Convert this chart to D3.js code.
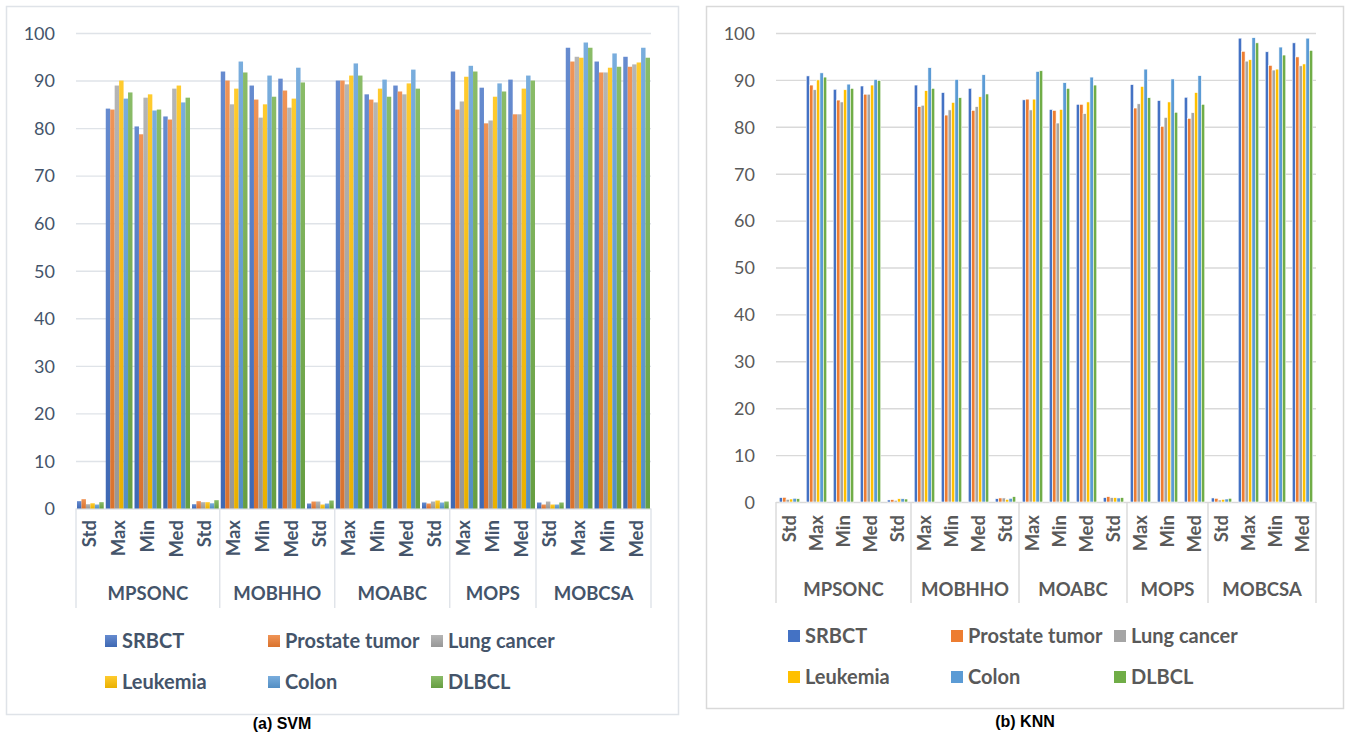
<!DOCTYPE html>
<html>
<head>
<meta charset="utf-8">
<script src="https://cdnjs.cloudflare.com/ajax/libs/d3/7.8.5/d3.min.js"></script>
<style>
  html, body { margin: 0; padding: 0; background: #fff; }
  svg { display: block; }
</style>
</head>
<body>
<svg id="chart" width="1348" height="737"></svg>
<script>
// ---------------- DATA ----------------
const categories = ["Std","Max","Min","Med","Std","Max","Min","Med","Std","Max","Min","Med","Std","Max","Min","Med","Std","Max","Min","Med"];
const groupNames = ["MPSONC","MOBHHO","MOABC","MOPS","MOBCSA"];
const groupSizes = [5, 4, 4, 3, 4];
const seriesNames = ["SRBCT","Prostate tumor","Lung cancer","Leukemia","Colon","DLBCL"];
const seriesColors = ["#4472C4","#ED7D31","#A5A5A5","#FFC000","#5B9BD5","#70AD47"];
const yTicks = [0,10,20,30,40,50,60,70,80,90,100];

// (a) SVM
const svmSRBCT    = [1.54, 84.1, 80.35, 82.45, 0.9, 91.9, 88.95, 90.4, 1.05, 90.0, 87.1, 88.95, 1.26, 91.9, 88.5, 90.2, 1.26, 96.9, 94.0, 95.0];
const svmProstate = [1.96, 83.9, 78.7, 81.8, 1.54, 90.0, 86.0, 87.9, 1.47, 90.0, 86.0, 87.7, 1.05, 83.9, 81.0, 82.9, 0.84, 94.0, 91.7, 92.9];
const svmLung     = [0.9, 88.95, 86.4, 88.3, 1.33, 85.0, 82.2, 84.3, 1.47, 89.2, 85.4, 87.1, 1.47, 85.6, 81.6, 82.9, 1.47, 95.0, 91.7, 93.4];
const svmLeukemia = [1.1, 90.0, 87.1, 88.95, 1.33, 88.3, 85.0, 86.2, 0.84, 91.05, 88.3, 89.4, 1.68, 90.8, 86.6, 88.3, 0.84, 94.8, 92.7, 93.8];
const svmColon    = [0.84, 86.2, 83.7, 85.4, 1.1, 94.0, 91.05, 92.7, 1.05, 93.6, 90.2, 92.3, 1.26, 93.1, 89.4, 91.05, 0.84, 98.0, 95.7, 96.9];
const svmDLBCL    = [1.33, 87.5, 83.9, 86.4, 1.75, 91.7, 86.6, 89.6, 1.68, 91.05, 86.6, 88.3, 1.47, 91.9, 87.7, 90.0, 1.26, 96.9, 92.9, 94.8];

// (b) KNN
const knnSRBCT    = [0.93, 90.85, 88.0, 88.7, 0.43, 88.9, 87.3, 88.2, 0.7, 85.75, 83.7, 84.8, 0.93, 89.0, 85.6, 86.3, 0.86, 98.9, 96.0, 97.9];
const knnProstate = [1.0, 88.9, 85.7, 86.95, 0.5, 84.3, 82.5, 83.5, 0.86, 85.9, 83.5, 84.8, 1.14, 84.0, 80.1, 81.8, 0.79, 96.1, 93.1, 94.9];
const knnLung     = [0.57, 87.9, 85.3, 86.95, 0.36, 84.6, 83.6, 84.3, 0.86, 83.6, 80.8, 82.8, 0.93, 84.9, 82.0, 83.0, 0.43, 94.0, 92.1, 93.0];
const knnLeukemia = [0.64, 90.0, 87.9, 88.9, 0.7, 87.7, 85.2, 86.4, 0.57, 85.9, 83.7, 85.3, 0.93, 88.6, 85.3, 87.3, 0.57, 94.3, 92.3, 93.4];
const knnColon    = [0.8, 91.5, 89.1, 90.1, 0.7, 92.6, 90.1, 91.1, 0.79, 91.8, 89.4, 90.6, 0.86, 92.3, 90.2, 90.9, 0.64, 99.0, 97.0, 98.9];
const knnDLBCL    = [0.7, 90.6, 88.2, 89.9, 0.64, 88.2, 86.2, 87.0, 1.14, 91.95, 88.2, 88.9, 0.93, 86.2, 83.1, 84.8, 0.79, 97.9, 95.3, 96.3];

const svmSeries = [svmSRBCT, svmProstate, svmLung, svmLeukemia, svmColon, svmDLBCL];
const knnSeries = [knnSRBCT, knnProstate, knnLung, knnLeukemia, knnColon, knnDLBCL];

// ---------------- DRAW ----------------
const svg = d3.select("#chart");
const defs = svg.append("defs");
const FONT = "Lato, 'Open Sans', sans-serif";

// gradients for SVM look
seriesColors.forEach((c, i) => {
  const base = d3.color(c);
  const g = defs.append("linearGradient").attr("id", "grad" + i)
    .attr("x1", 0).attr("y1", 0).attr("x2", 0).attr("y2", 1);
  g.append("stop").attr("offset", "0%").attr("stop-color", d3.interpolateRgb(c, "#ffffff")(0.18));
  g.append("stop").attr("offset", "100%").attr("stop-color", base.darker(0.25).formatHex());
});

function drawPanel(cfg) {
  const g = svg.append("g");
  // panel border
  g.append("rect")
    .attr("x", cfg.box[0] + 0.5).attr("y", cfg.box[1] + 0.5)
    .attr("width", cfg.box[2] - cfg.box[0]).attr("height", cfg.box[3] - cfg.box[1])
    .attr("fill", "#fff").attr("stroke", cfg.borderColor).attr("stroke-width", 1.5);

  const x0 = d3.scaleBand().domain(d3.range(categories.length))
    .range([cfg.left, cfg.right]).paddingInner(cfg.padInner).paddingOuter(cfg.padOuter);
  const xRaw = d3.scaleBand().domain(d3.range(categories.length)).range([cfg.left, cfg.right]);
  const x1 = d3.scaleBand().domain(d3.range(seriesNames.length)).range([0, x0.bandwidth()]);
  const y = d3.scaleLinear().domain([0, 100]).range([cfg.bottom, cfg.top]);

  // gridlines
  const yAxis = d3.axisLeft(y).tickValues(yTicks).tickSize(-(cfg.right - cfg.left)).tickPadding(cfg.tickPad);
  const ya = g.append("g").attr("transform", `translate(${cfg.left},0)`).call(yAxis);
  ya.select(".domain").remove();
  ya.selectAll(".tick line").attr("stroke", cfg.gridColor).attr("stroke-width", 1.4);
  ya.selectAll(".tick text").attr("font-family", FONT).attr("font-size", 18)
    .attr("fill", cfg.textColor).attr("dy", "0.35em");

  // bars
  const data = [];
  cfg.series.forEach((arr, si) => arr.forEach((v, ci) => data.push({ si, ci, v })));
  g.append("g").selectAll("rect").data(data).join("rect")
    .attr("x", d => x0(d.ci) + x1(d.si))
    .attr("y", d => y(d.v))
    .attr("width", x1.bandwidth())
    .attr("height", d => y(0) - y(d.v))
    .attr("fill", d => cfg.gradient ? `url(#grad${d.si})` : seriesColors[d.si])
    .attr("stroke", cfg.barStroke || "none")
    .attr("stroke-width", cfg.barStroke ? 0.6 : 0);

  // category labels (rotated)
  g.append("g").selectAll("text").data(categories).join("text")
    .attr("transform", (d, i) => `translate(${xRaw(i) + xRaw.bandwidth() / 2 + 6},${cfg.catLabelTop}) rotate(-90)`)
    .attr("text-anchor", "end")
    .attr("font-family", FONT).attr("font-size", 18.5).attr("font-weight", "bold")
    .attr("fill", cfg.textColor)
    .text(d => d);

  // group separators and labels
  let start = 0;
  const bounds = [0];
  groupSizes.forEach(s => { start += s; bounds.push(start); });
  g.append("g").selectAll("line").data(bounds).join("line")
    .attr("x1", b => b < categories.length ? xRaw(b) : cfg.right)
    .attr("x2", b => b < categories.length ? xRaw(b) : cfg.right)
    .attr("y1", cfg.bottom).attr("y2", cfg.sepBottom)
    .attr("stroke", cfg.gridColor).attr("stroke-width", 1.4);
  g.append("g").selectAll("text").data(groupNames).join("text")
    .attr("x", (d, i) => {
      const a = xRaw(bounds[i]);
      const b = bounds[i + 1] < categories.length ? xRaw(bounds[i + 1]) : cfg.right;
      return (a + b) / 2;
    })
    .attr("y", cfg.groupY)
    .attr("dy", "0.35em")
    .attr("text-anchor", "middle")
    .attr("font-family", FONT).attr("font-size", 18.5).attr("font-weight", "bold")
    .attr("fill", cfg.textColor)
    .text(d => d);

  // legend
  const lg = g.append("g");
  seriesNames.forEach((n, i) => {
    const row = Math.floor(i / 3), col = i % 3;
    const lx = cfg.legendX[col], ly = cfg.legendY[row];
    lg.append("rect").attr("x", lx).attr("y", ly - 6).attr("width", 12).attr("height", 12)
      .attr("fill", cfg.gradient ? `url(#grad${i})` : seriesColors[i]);
    lg.append("text").attr("x", lx + cfg.legendTextOff).attr("y", ly).attr("dy", "0.35em")
      .attr("font-family", FONT).attr("font-size", 20).attr("font-weight", "bold")
      .attr("fill", cfg.textColor).text(n);
  });

  // caption
  svg.append("text").attr("x", cfg.captionX).attr("y", cfg.captionY)
    .attr("text-anchor", "middle")
    .attr("font-family", "'Liberation Sans', Arial, sans-serif")
    .attr("font-size", 16).attr("font-weight", "bold").attr("fill", "#000")
    .text(cfg.caption);
}

drawPanel({
  series: svmSeries, gradient: true,
  box: [6, 6, 678, 714], borderColor: "#dfe3e8",
  left: 76, right: 651, top: 33, bottom: 508.5,
  padInner: 0.07, padOuter: 0.035, tickPad: 21,
  gridColor: "#dfe3e8", textColor: "#44546A",
  catLabelTop: 520, groupY: 594, sepBottom: 608,
  legendX: [105, 268, 431], legendY: [641, 682], legendTextOff: 17,
  caption: "(a) SVM", captionX: 282, captionY: 729
});

drawPanel({
  series: knnSeries, gradient: false, barStroke: "#ffffff",
  box: [706, 6, 1343, 708], borderColor: "#d9d9d9",
  left: 776, right: 1316, top: 33, bottom: 502,
  padInner: 0.24, padOuter: 0.12, tickPad: 21,
  gridColor: "#d9d9d9", textColor: "#595959",
  catLabelTop: 515, groupY: 590, sepBottom: 603,
  legendX: [788, 951, 1114], legendY: [636, 677], legendTextOff: 17,
  caption: "(b) KNN", captionX: 1025, captionY: 727
});
</script>
</body>
</html>
